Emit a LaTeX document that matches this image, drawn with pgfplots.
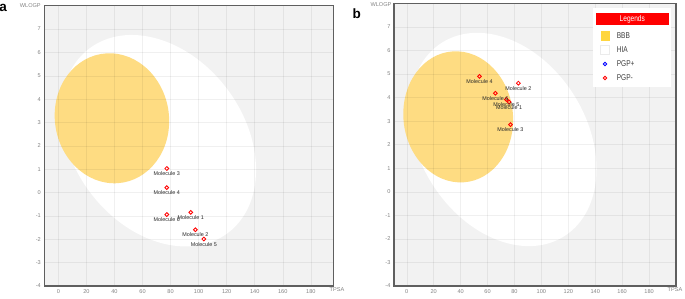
\documentclass[border=0pt]{standalone}
\usepackage{fontspec}
\setmainfont{Liberation Sans}
\usepackage{pgfplots}
\pgfplotsset{compat=1.18}
\usepackage{pgfplotstable}

\definecolor{bggray}{RGB}{242,242,242}
\definecolor{framegray}{RGB}{95,95,95}
\definecolor{tickgray}{RGB}{130,130,130}
\definecolor{yolk}{RGB}{254,220,130}
\definecolor{bbbleg}{RGB}{255,214,64}
\definecolor{labelgray}{RGB}{40,40,40}

% data: TPSA, WLOGP, name
\pgfplotstableread[col sep=comma]{
x,y,label
94.4,-0.85,Molecule 1
97.7,-1.59,Molecule 2
77.3,1.03,Molecule 3
77.3,0.21,Molecule 4
103.7,-1.99,Molecule 5
77.3,-0.94,Molecule 6
}\dataA
\pgfplotstableread[col sep=comma]{
x,y,label
76.0,3.81,Molecule 1
82.9,4.61,Molecule 2
77.0,2.85,Molecule 3
54.0,4.90,Molecule 4
74.0,3.92,Molecule 5
65.8,4.18,Molecule 6
}\dataB

% ellipse: colour, centre x, centre y, first half-axis vector, second half-axis vector (data units)
\newcommand{\eggpart}[7]{%
  \pgfplotsextra{%
    \begin{pgfscope}%
    \pgfpathellipse{\pgfplotspointaxisxy{#2}{#3}}{\pgfplotspointaxisdirectionxy{#4}{#5}}{\pgfplotspointaxisdirectionxy{#6}{#7}}%
    \pgfsetfillcolor{#1}%
    \pgfusepath{fill}%
    \end{pgfscope}%
  }%
}

\pgfplotsset{eggaxis/.style={
  scale only axis, anchor=south west,
  ymin=-4, ymax=8,
  xtick={0,20,...,180}, ytick={-4,...,7},
  grid=major, grid style={black, opacity=0.06, line width=0.5pt},
  major tick length=0pt,
  axis background/.style={fill=bggray},
  axis line style={draw=framegray, line width=1.3pt},
  tick label style={font=\fontsize{5.6}{6}\selectfont, text=tickgray},
  /pgf/number format/assume math mode=true,
  axis on top,
},
molplot/.style={
  only marks, mark=o, mark size=1.9pt,
  mark options={draw=red, fill=white, line width=0.85pt},
  point meta=explicit symbolic,
  nodes near coords,
  every node near coord/.append style={anchor=center, yshift=-5.2pt, inner sep=0pt,
     font=\fontsize{5.4}{6}\selectfont, text=labelgray},
}}

\begin{document}
\begin{tikzpicture}[x=1pt,y=1pt]
\useasboundingbox (0,0) rectangle (685,298);

% ---------- panel a ----------
\begin{axis}[eggaxis, at={(44.3pt,12pt)}, width=289pt, height=280.3pt,
  xmin=-10, xmax=196]
  \eggpart{white}{71.5}{2.22}{69.45}{-1.25}{0}{4.35}
  \eggpart{yolk}{38.2}{3.18}{40.8}{-0.12}{0}{2.78}
  \addplot[molplot] table[x=x, y=y, meta=label] {\dataA};
\end{axis}

% ---------- panel b ----------
\begin{axis}[eggaxis, at={(394pt,12pt)}, width=282pt, height=282.7pt,
  xmin=-9.5, xmax=200]
  \eggpart{white}{71.5}{2.22}{69.45}{-1.25}{0}{4.35}
  \eggpart{yolk}{38.2}{3.18}{40.8}{-0.12}{0}{2.78}
  \addplot[molplot] table[x=x, y=y, meta=label] {\dataB};
\end{axis}

% axis titles
\node[font=\fontsize{5.6}{6}\selectfont, text=tickgray, inner sep=0pt] at (30.3,292.3) {WLOGP};
\node[font=\fontsize{5.6}{6}\selectfont, text=tickgray, inner sep=0pt] at (337,8) {TPSA};
\node[font=\fontsize{5.6}{6}\selectfont, text=tickgray, inner sep=0pt] at (381,293) {WLOGP};
\node[font=\fontsize{5.6}{6}\selectfont, text=tickgray, inner sep=0pt] at (675,8) {TPSA};

% panel letters
\node[anchor=base west, inner sep=0pt, font=\bfseries\fontsize{13.5}{14}\selectfont] at (-0.8,286.7) {a};
\node[anchor=base west, inner sep=0pt, font=\bfseries\fontsize{13.5}{14}\selectfont] at (352.3,279.7) {b};

% legend (panel b)
\fill[white] (593.3,210.7) rectangle (671,289.7);
\fill[red] (595.7,273.3) rectangle (669,284.7);
\node[text=white, inner sep=0pt, font=\fontsize{8.4}{9}\selectfont, xscale=0.78] at (632.3,279) {Legends};
\fill[bbbleg] (600.5,257.5) rectangle (609.5,266.5);
\filldraw[fill=white, draw=black!8, line width=0.4pt] (600.5,243.5) rectangle (609.5,252.5);
\filldraw[fill=white, draw=blue, line width=0.85pt] (605,234) circle (1.7);
\filldraw[fill=white, draw=red, line width=0.85pt] (605,220) circle (1.7);
\begin{scope}[every node/.style={anchor=west, inner sep=0pt, font=\fontsize{8.4}{9}\selectfont, text=black!75, xscale=0.78}]
\node at (616.7,262) {BBB};
\node at (616.7,248) {HIA};
\node at (616.7,234) {PGP+};
\node at (616.7,220) {PGP-};
\end{scope}
\end{tikzpicture}
\end{document}
